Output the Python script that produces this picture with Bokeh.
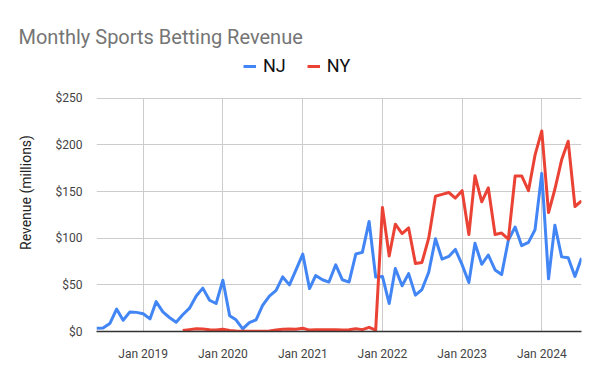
import math
import pandas as pd
from bokeh.plotting import figure
from bokeh.models import (Legend, LegendItem, FixedTicker, NumeralTickFormatter,
                          DatetimeTickFormatter, Range1d)
from bokeh.embed import file_html
from bokeh.resources import INLINE

nan = float("nan")

# Months: Jun 2018 .. Jul 2024
months = pd.date_range("2018-06-01", "2024-07-01", freq="MS")

nj = [3.5, 3.8, 8.5, 24, 12, 21, 20.5,
      19, 13.5, 32, 21, 15, 10, 18, 25, 38, 46.5, 33.5, 30,
      55, 17, 12.5, 2.8, 9.5, 12.5, 28, 38, 44, 58.5, 50, 66,
      83, 46, 60, 55.5, 53, 71.5, 55.5, 53, 83, 84.8, 118, 58.4,
      59, 30, 67.5, 49, 62, 39, 45, 63.5, 99.5, 77.6, 80.5, 88,
      71.6, 52.5, 94.7, 72, 82, 66, 61, 98, 112, 92, 95.5, 109,
      169.5, 56.5, 114, 80, 79, 59, 78.7]

ny = [nan] * 13 + [
      1, 2, 3, 2.8, 2, 1.5,
      2.5, 1, 0.5, 0.2, 0.2, 0.2, 0.3, 0.5, 1.5, 2.5, 2.8, 2.5,
      3.5, 1.5, 2, 1.8, 2, 2, 1.5, 1.8, 3, 2, 4.5, 1.5,
      133, 81, 115, 105, 111, 73, 74, 100, 145, 147, 149, 143,
      151, 104, 167, 139, 154, 104, 105.5, 99, 166.7, 166.7, 151, 189,
      215, 127.5, 152.5, 184, 204, 134, 140]

series_names = ["NJ", "NY"]
series_colors = ["#4285F4", "#EA4335"]
year_ticks = pd.to_datetime(["2019-01-01", "2020-01-01", "2021-01-01",
                             "2022-01-01", "2023-01-01", "2024-01-01"])
y_ticks = [0, 50, 100, 150, 200, 250]
y_max = 250
y_top = 298   # headroom above the axis for the legend

FONT = "Roboto"

p = figure(width=592, height=363, x_axis_type="datetime",
           output_backend="svg", toolbar_location=None,
           x_range=Range1d(months[0].to_pydatetime(), months[-1].to_pydatetime()),
           y_range=Range1d(0, y_top),
           min_border_left=96, min_border_right=11, min_border_top=53,
           min_border_bottom=31)
p.outline_line_color = None
p.background_fill_color = "white"
p.border_fill_color = "white"

renderers = []
for vals, color in zip([nj, ny], series_colors):
    r = p.line(months, vals, line_color=color, line_width=3, line_join="round")
    renderers.append(r)

xt = FixedTicker(ticks=[t.value // 10**6 for t in year_ticks])
p.xaxis.ticker = xt
p.xgrid.ticker = xt
p.xgrid.cross_bounds = (0, y_max)
p.xaxis.formatter = DatetimeTickFormatter(years="%b %Y", months="%b %Y",
                                          days="%b %Y")
p.yaxis.ticker = FixedTicker(ticks=y_ticks)
p.yaxis.formatter = NumeralTickFormatter(format="$0")
p.yaxis.bounds = (0, y_max)

for g in (p.xgrid, p.ygrid):
    g.grid_line_color = "#cccccc"
    g.grid_line_width = 1

for ax in (p.xaxis, p.yaxis):
    ax.major_tick_line_color = None
    ax.minor_tick_line_color = None
    ax.major_label_text_font = FONT
    ax.major_label_text_font_size = "12px"
    ax.major_label_text_color = "#444444"

p.yaxis.axis_line_color = None
p.yaxis.major_label_standoff = 8
p.yaxis.axis_label = "Revenue (millions)"
p.yaxis.axis_label_text_font = FONT
p.yaxis.axis_label_text_font_size = "14px"
p.yaxis.axis_label_text_font_style = "normal"
p.yaxis.axis_label_text_color = "#222222"
p.yaxis.axis_label_standoff = 19

p.xaxis.axis_line_color = "#333333"
p.xaxis.axis_line_width = 1.5
p.xaxis.major_label_standoff = 9

legend = Legend(items=[LegendItem(label=n, renderers=[r])
                       for n, r in zip(series_names, renderers)],
                orientation="horizontal", location=(147, 255),
                label_text_font=FONT, label_text_font_size="18px",
                label_text_color="#111111",
                glyph_width=13, glyph_height=18, label_standoff=7,
                spacing=21, padding=0, margin=0,
                border_line_color=None, background_fill_alpha=0)
p.add_layout(legend, "center")

p.title.text = "Monthly Sports Betting Revenue"
p.title.text_font = FONT
p.title.text_font_size = "20px"
p.title.text_font_style = "normal"
p.title.text_color = "#757575"
p.title.align = "left"
p.title.offset = -78

open("out.html", "w").write(file_html(p, INLINE))
